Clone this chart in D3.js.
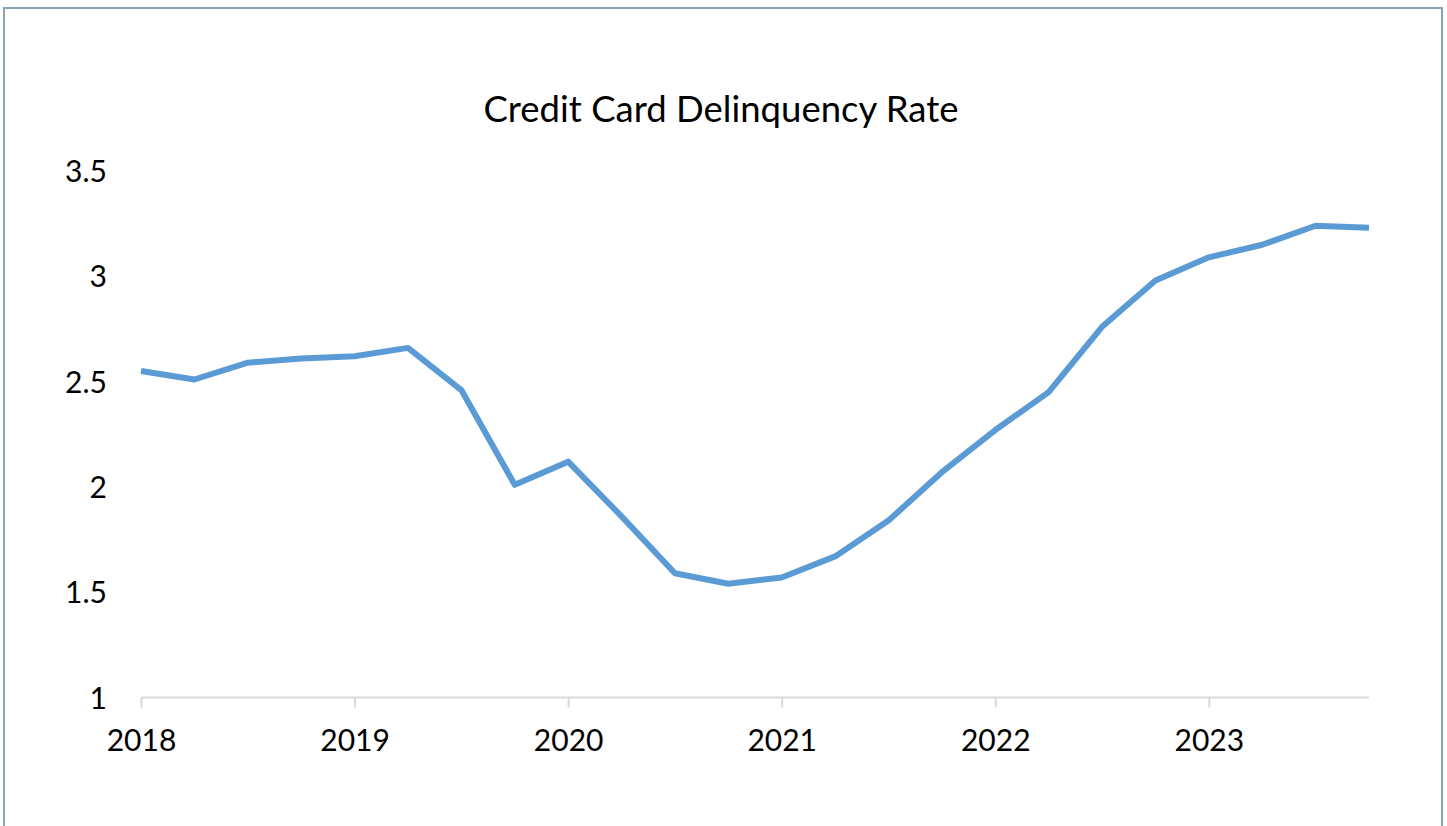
<!DOCTYPE html>
<html>
<head>
<meta charset="utf-8">
<script src="https://cdn.jsdelivr.net/npm/d3@7"></script>
<style>
  html, body { margin: 0; padding: 0; background: #fff; }
  svg { display: block; }
  text { font-family: Lato, "Open Sans", sans-serif; fill: #000; }
</style>
</head>
<body>
<svg id="chart" width="1447" height="826"></svg>
<script>
// Quarterly observations, 2018 Q1 – 2023 Q4
const quarters = [
  "2018Q1","2018Q2","2018Q3","2018Q4",
  "2019Q1","2019Q2","2019Q3","2019Q4",
  "2020Q1","2020Q2","2020Q3","2020Q4",
  "2021Q1","2021Q2","2021Q3","2021Q4",
  "2022Q1","2022Q2","2022Q3","2022Q4",
  "2023Q1","2023Q2","2023Q3","2023Q4"
];
const delinquencyRate = [
  2.55, 2.51, 2.59, 2.61,
  2.62, 2.66, 2.46, 2.01,
  2.12, 1.86, 1.59, 1.54,
  1.57, 1.67, 1.84, 2.07,
  2.27, 2.45, 2.76, 2.98,
  3.09, 3.15, 3.24, 3.23
];
const yTicks = [1, 1.5, 2, 2.5, 3, 3.5];
const yearLabels = ["2018", "2019", "2020", "2021", "2022", "2023"];
const title = "Credit Card Delinquency Rate";

const svg = d3.select("#chart");
const W = 1447, H = 826;

// chart area frame
svg.append("rect")
  .attr("x", 4).attr("y", 8)
  .attr("width", 1438).attr("height", H)
  .attr("fill", "#fff")
  .attr("stroke", "#8ba3b3")
  .attr("stroke-width", 2);

const plot = { left: 141, right: 1369, top: 171, bottom: 697.5 };

const x = d3.scalePoint()
  .domain(quarters)
  .range([plot.left, plot.right]);

const y = d3.scaleLinear()
  .domain([1, 3.5])
  .range([plot.bottom, plot.top]);

// title
svg.append("text")
  .attr("x", 721).attr("y", 122)
  .attr("text-anchor", "middle")
  .style("font-size", "36.5px")
  .text(title);

// y axis labels (no axis line)
const yAxis = d3.axisLeft(y)
  .tickValues(yTicks)
  .tickSize(0)
  .tickPadding(0)
  .tickFormat(d3.format("~g"));
const gy = svg.append("g")
  .attr("transform", `translate(107,0)`)
  .call(yAxis);
gy.select(".domain").remove();
gy.selectAll("text")
  .style("font-size", "30px")
  .attr("dy", "0.35em");

// x axis: category line with year ticks
const yearOf = {};
quarters.forEach(q => { if (q.endsWith("Q1")) yearOf[q] = q.slice(0, 4); });
const xAxis = d3.axisBottom(x)
  .tickValues(quarters.filter(q => yearLabels.includes(yearOf[q])))
  .tickSize(10)
  .tickPadding(22)
  .tickFormat(q => yearOf[q]);
const gx = svg.append("g")
  .attr("transform", `translate(0,${plot.bottom})`)
  .call(xAxis);
gx.select(".domain")
  .attr("d", `M${plot.left},0H${plot.right}`)
  .attr("stroke", "#d9d9d9")
  .attr("stroke-width", 2);
gx.selectAll(".tick line")
  .attr("stroke", "#d9d9d9")
  .attr("stroke-width", 2);
gx.selectAll(".tick text")
  .style("font-size", "30px");

// series line
const line = d3.line()
  .x((d, i) => x(quarters[i]))
  .y(d => y(d));

svg.append("path")
  .datum(delinquencyRate)
  .attr("d", line)
  .attr("fill", "none")
  .attr("stroke", "#5b9bd5")
  .attr("stroke-width", 6)
  .attr("stroke-linejoin", "round")
  .attr("stroke-linecap", "butt");
</script>
</body>
</html>
